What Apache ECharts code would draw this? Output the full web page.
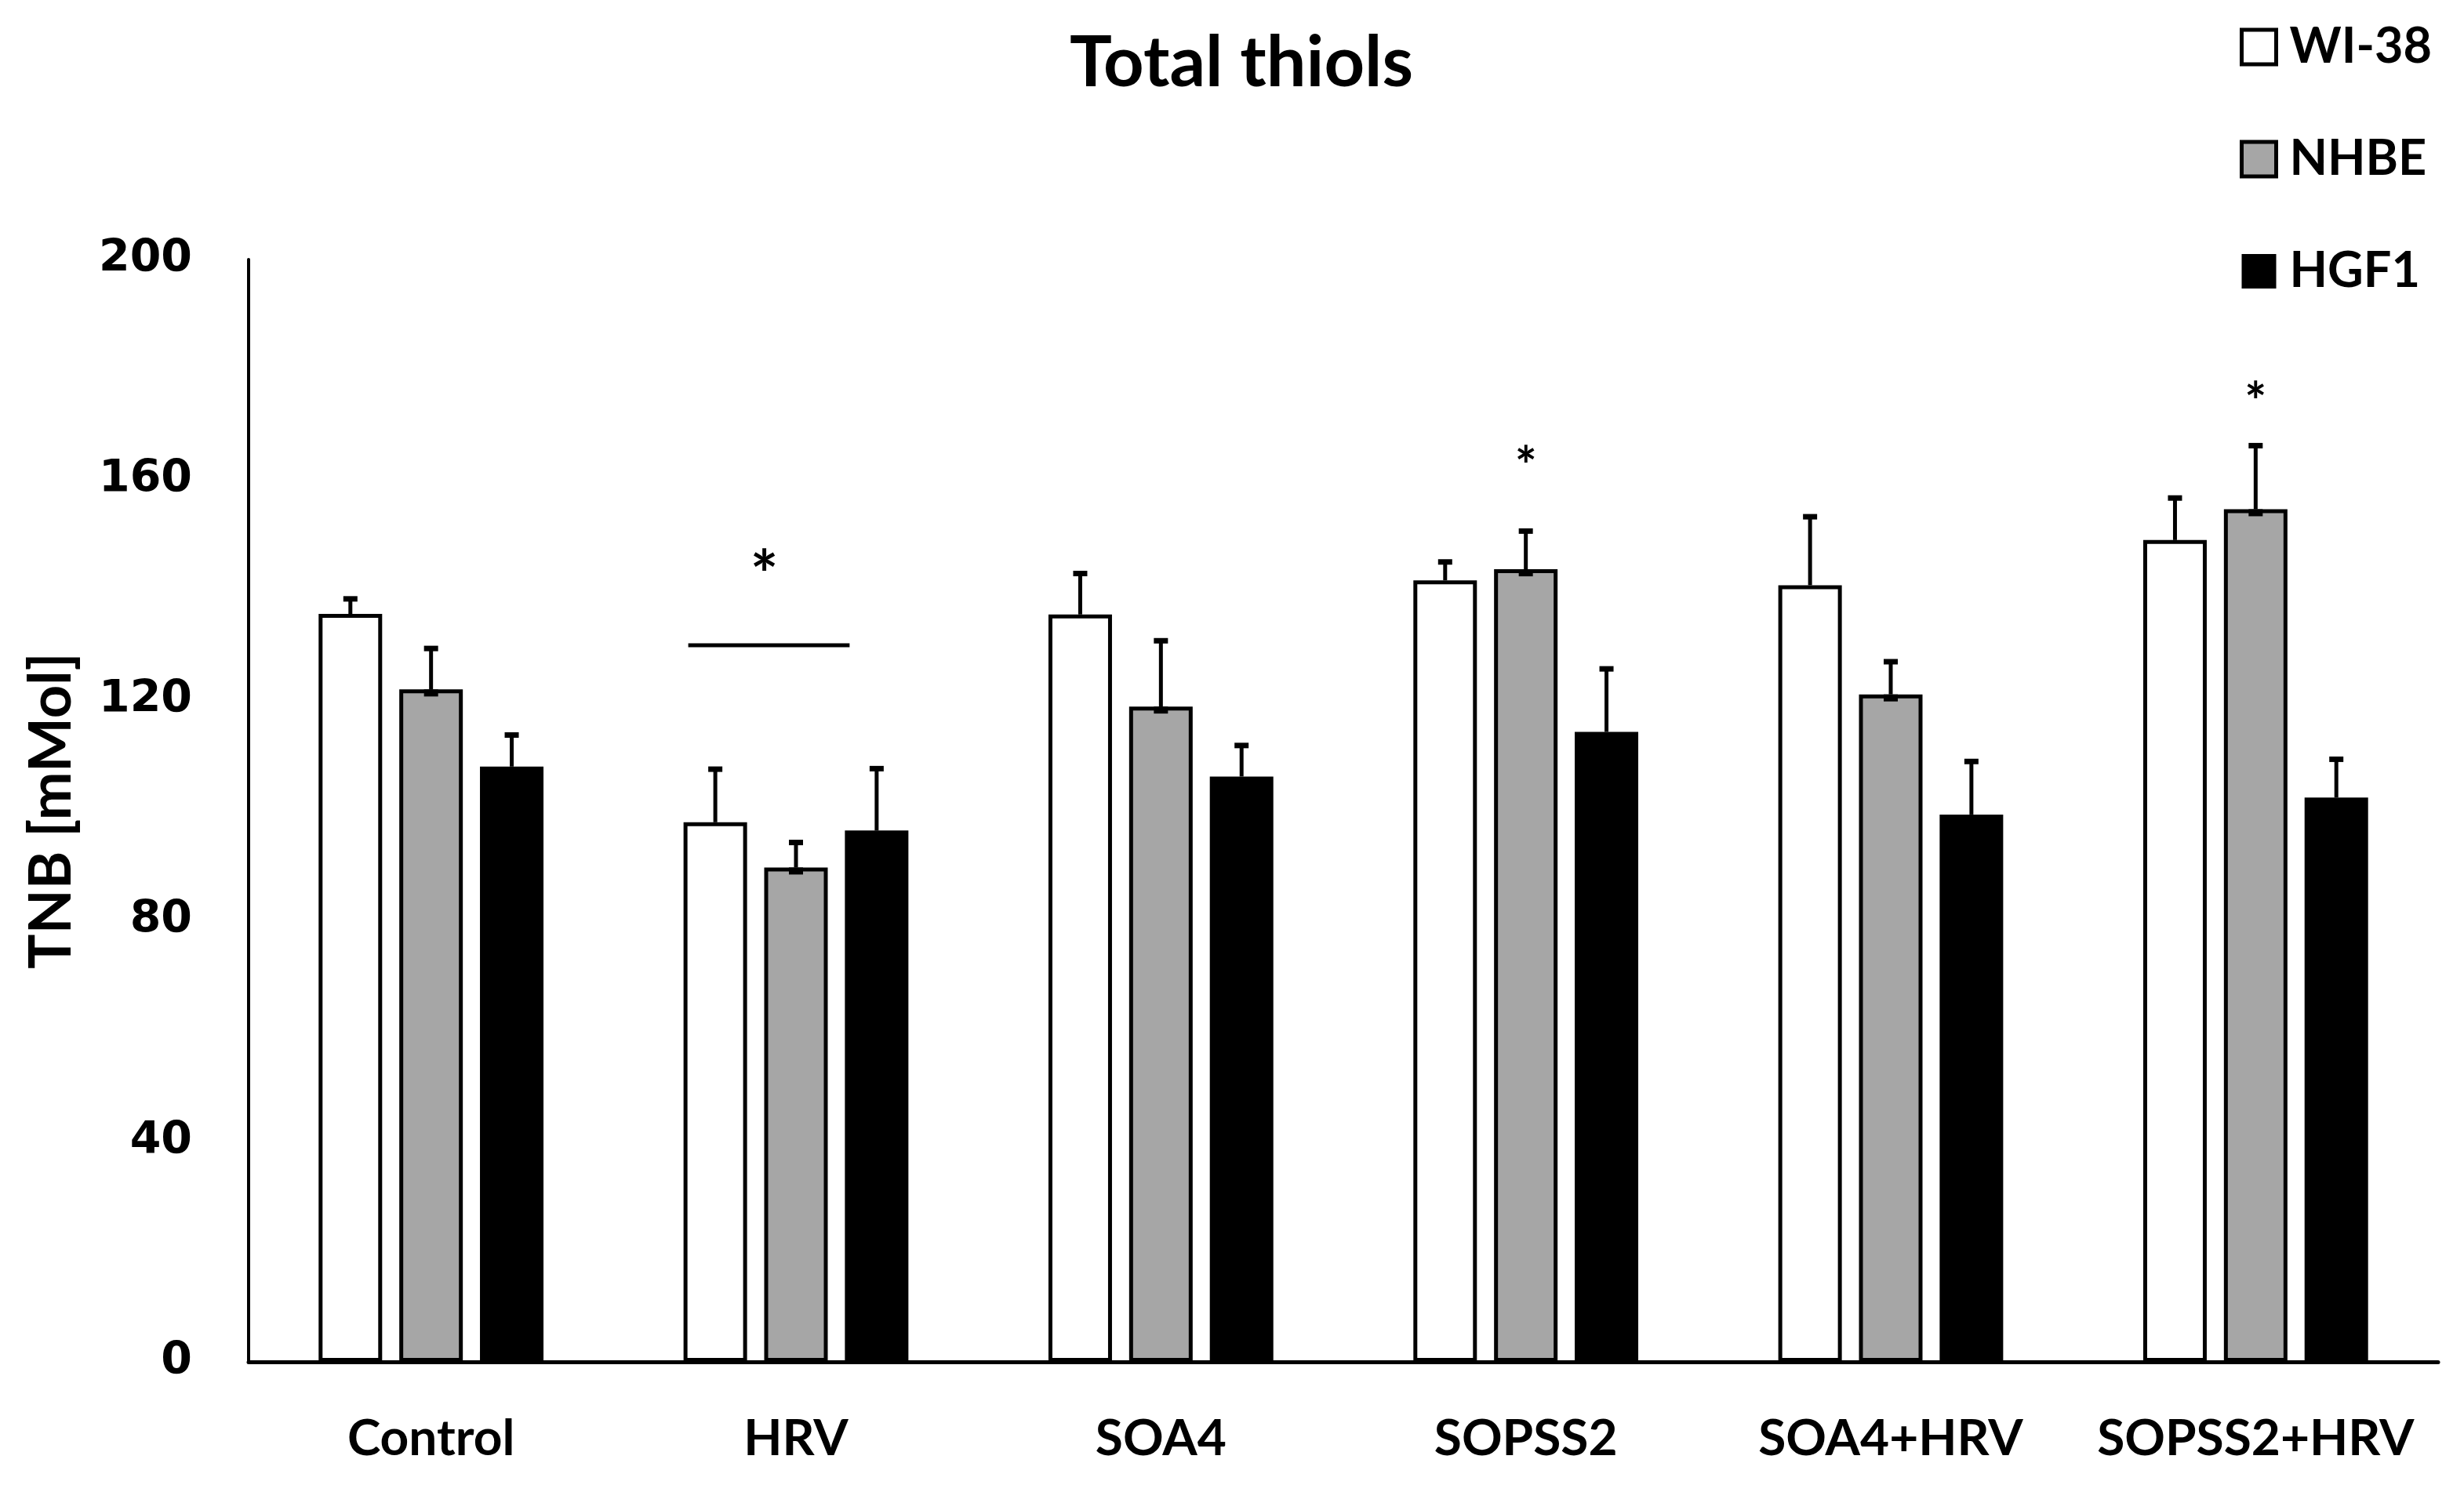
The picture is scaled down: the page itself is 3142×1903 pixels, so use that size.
<!DOCTYPE html>
<html>
<head>
<meta charset="utf-8">
<script src="https://cdn.jsdelivr.net/npm/echarts@6/dist/echarts.min.js"></script>
<style>
html,body{margin:0;padding:0;background:#fff;}
#chart{width:3142px;height:1903px;}
</style>
</head>
<body>
<div id="chart"></div>
<script>
// ---- data ----
const categories = ['Control', 'HRV', 'SOA4', 'SOPSS2', 'SOA4+HRV', 'SOPSS2+HRV'];
const seriesNames = ['WI-38', 'NHBE', 'HGF1'];
const wi38 = [135.7, 97.9, 135.6, 141.8, 140.9, 149.1];
const wi38Err = [2.8, 9.7, 7.5, 3.4, 12.5, 7.7];
const nhbe = [122.0, 89.7, 118.9, 143.8, 121.1, 154.7];
const nhbeErr = [7.5, 4.6, 12.0, 7.0, 6.0, 11.6];
const hgf1 = [108.0, 96.4, 106.2, 114.3, 99.3, 102.4];
const hgf1Err = [5.8, 11.3, 5.7, 11.5, 9.7, 7.0];
const yTicks = [0, 40, 80, 120, 160, 200];
// significance annotations
const sigLineCategory = 'HRV';
const sigLineValue = 130;
const starCategories = ['HRV', 'SOPSS2', 'SOPSS2+HRV'];
const starValues = [145.1, 164.2, 176.0];

// ---- styles ----
const BAR_W = 81;
const BAR_GAP = 0.27;
const STEP = BAR_W * (1 + BAR_GAP);
const fills = ['#ffffff', '#a6a6a6', '#000000'];
const FONT = 'Lato, "Open Sans", sans-serif';

const values = [wi38, nhbe, hgf1];
const errs = [wi38Err, nhbeErr, hgf1Err];

const chart = echarts.init(document.getElementById('chart'), null, {renderer: 'canvas'});

const barSeries = seriesNames.map((name, s) => ({
  name: name,
  type: 'bar',
  data: values[s],
  barWidth: BAR_W,
  barGap: (BAR_GAP * 100) + '%',
  itemStyle: {color: fills[s], borderColor: '#000', borderWidth: s === 2 ? 2 : 5},
  z: 2,
  animation: false
}));

const errSeries = seriesNames.map((name, s) => ({
  type: 'custom',
  name: name + '-err',
  z: 5,
  animation: false,
  data: values[s].map((v, i) => [i, v, v + errs[s][i]]),
  renderItem: function (params, api) {
    const c = api.coord([api.value(0), api.value(1)]);
    const t = api.coord([api.value(0), api.value(2)]);
    const x = c[0] + (s - 1) * STEP;
    const children = [
      {type: 'line', shape: {x1: x, y1: c[1], x2: x, y2: t[1]}, style: {stroke: '#000', lineWidth: 5}},
      {type: 'rect', shape: {x: x - 9, y: t[1] - 3, width: 18, height: 7}, style: {fill: '#000'}}
    ];
    if (s === 1) {
      children.push({type: 'rect', shape: {x: x - 9, y: c[1], width: 18, height: 9}, style: {fill: '#000'}});
    }
    return {type: 'group', children: children};
  }
}));

function sigLineEnds(cx) {
  return [cx - STEP - BAR_W / 2 + 6, cx + STEP - BAR_W / 2 + 6];
}

const sigSeries = {
  type: 'custom',
  name: 'sig-line',
  z: 5,
  animation: false,
  data: [[categories.indexOf(sigLineCategory), sigLineValue]],
  renderItem: function (params, api) {
    const c = api.coord([api.value(0), api.value(1)]);
    const e = sigLineEnds(c[0]);
    return {type: 'line', shape: {x1: e[0], y1: c[1], x2: e[1], y2: c[1]}, style: {stroke: '#000', lineWidth: 5}};
  }
};

const starSeries = {
  type: 'custom',
  name: 'stars',
  z: 6,
  animation: false,
  data: starCategories.map((cat, k) => [categories.indexOf(cat), starValues[k], k]),
  renderItem: function (params, api) {
    const c = api.coord([api.value(0), api.value(1)]);
    const k = api.value(2);
    const size = k === 0 ? 84 : 66;
    let x = c[0];
    if (k === 0) {
      const e = sigLineEnds(c[0]);
      x = (e[0] + e[1]) / 2 - 6;
    }
    return {
      type: 'text',
      style: {
        x: x, y: c[1] + size * 0.22,
        text: '*',
        font: 'bold ' + size + 'px ' + FONT,
        fill: '#000',
        align: 'center',
        verticalAlign: 'middle'
      }
    };
  }
};

const option = {
  backgroundColor: '#fff',
  animation: false,
  title: {
    text: 'Total thiols',
    left: 1578,
    top: 31,
    textAlign: 'center',
    textStyle: {fontFamily: FONT, fontWeight: 'bold', fontSize: 90, lineHeight: 90, color: '#000'}
  },
  legend: {
    orient: 'vertical',
    left: 2851,
    top: 23,
    itemWidth: 44,
    itemHeight: 44,
    itemGap: 79,
    icon: 'rect',
    data: seriesNames.map((n, s) => ({
      name: n,
      itemStyle: {color: fills[s], borderColor: '#000', borderWidth: s === 2 ? 0 : 5}
    })),
    textStyle: {fontFamily: FONT, fontWeight: 'bold', fontSize: 63, lineHeight: 64, color: '#000', padding: [0, 0, 0, 12]}
  },
  grid: {left: 317, right: 33, top: 331, bottom: 166, containLabel: false},
  xAxis: {
    type: 'category',
    data: categories,
    axisLine: {lineStyle: {color: '#000', width: 5}},
    axisTick: {show: false},
    axisLabel: {fontFamily: FONT, fontWeight: 'bold', fontSize: 64, lineHeight: 64, color: '#000', margin: 66, interval: 0}
  },
  yAxis: {
    type: 'value',
    min: yTicks[0],
    max: yTicks[yTicks.length - 1],
    interval: yTicks[1] - yTicks[0],
    name: 'TNB [mMol]',
    nameLocation: 'middle',
    nameRotate: 90,
    nameGap: 214,
    nameTextStyle: {fontFamily: FONT, fontWeight: 'bold', fontSize: 74, lineHeight: 74, color: '#000'},
    axisLine: {show: true, lineStyle: {color: '#000', width: 4}},
    axisTick: {show: false},
    splitLine: {show: false},
    axisLabel: {fontFamily: '"DejaVu Sans", sans-serif', fontWeight: 'bold', fontSize: 57, color: '#000', margin: 72}
  },
  series: [...barSeries, ...errSeries, sigSeries, starSeries]
};
chart.setOption(option);
</script>
</body>
</html>
